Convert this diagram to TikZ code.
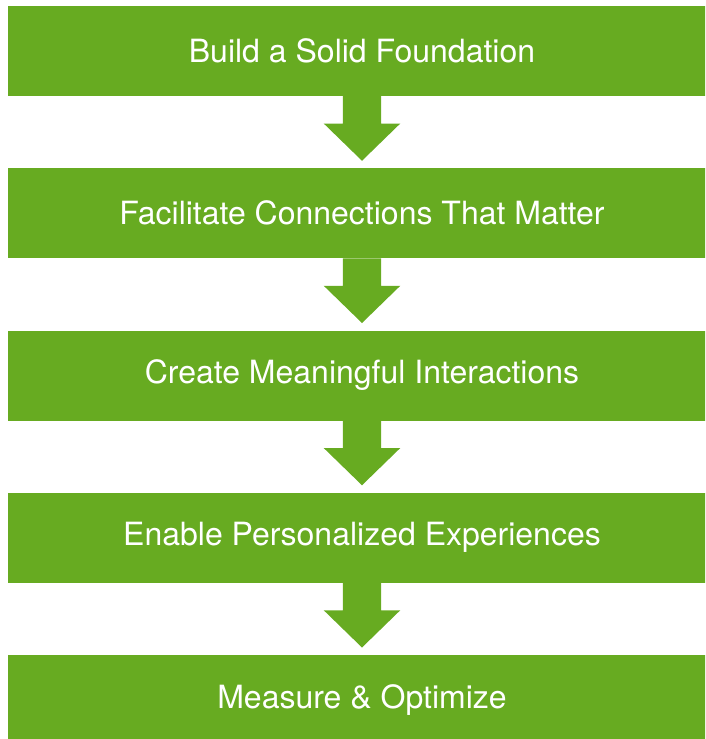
\documentclass[tikz,border=0pt]{standalone}
\usepackage{fontspec}
\setmainfont{TeX Gyre Heros}
\usepackage{xcolor}
\usepackage{tikz}
\usetikzlibrary{positioning}

\definecolor{leaf}{RGB}{103,171,33}

\begin{document}
\begin{tikzpicture}[
  x=1pt, y=1pt,
  font=\fontsize{32}{38}\selectfont,
  stage/.style={fill=leaf, text=white, inner sep=0pt, minimum width=708pt, minimum height=90pt},
  flow/.style={fill=leaf, to path={([xshift=-19.2pt]\tikztostart) -- ++(0,-27.3) -- ++(-19.1,0)
      -- ([yshift=7.3pt]\tikztotarget) -- ([xshift=38.3pt,yshift=-27.3pt]\tikztostart)
      -- ++(-19.1,0) -- ([xshift=19.2pt]\tikztostart) -- cycle}},
]
\clip (0,0) rectangle (705,-739);
\node[stage] (s1) at (362,-51) {Build a Solid Foundation};
\node[stage] (s2) at (362,-213.25) {Facilitate Connections That Matter};
\node[stage] (s3) at (362,-375.5) {Create Meaningful Interactions};
\node[stage] (s4) at (362,-537.75) {Enable Personalized Experiences};
\node[stage] (s5) at (362,-700) {Measure \& Optimize};
\fill[flow] (s1.south) to (s2.north);
\fill[flow] (s2.south) to (s3.north);
\fill[flow] (s3.south) to (s4.north);
\fill[flow] (s4.south) to (s5.north);
\end{tikzpicture}
\end{document}
